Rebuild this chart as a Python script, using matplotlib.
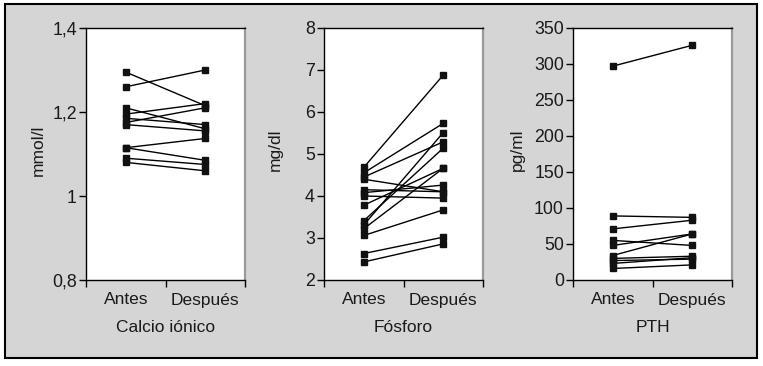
import matplotlib
matplotlib.use("Agg")
import matplotlib.pyplot as plt
from matplotlib.patches import Rectangle
from matplotlib.ticker import FixedLocator, NullFormatter

plt.rcParams['font.family'] = ['Liberation Sans', 'DejaVu Sans']

categories = ["Antes", "Después"]

calcio_antes = [1.295, 1.26, 1.21, 1.195, 1.185, 1.175, 1.17, 1.115, 1.115, 1.09, 1.08]
calcio_despues = [1.215, 1.30, 1.16, 1.22, 1.17, 1.21, 1.155, 1.137, 1.085, 1.075, 1.06]

fosforo_antes = [4.68, 4.55, 4.45, 4.40, 4.15, 4.08, 4.00, 3.78, 3.41, 3.31, 3.22, 3.06, 2.63, 2.43]
fosforo_despues = [6.88, 5.73, 5.29, 4.10, 4.10, 4.26, 3.95, 4.66, 5.14, 5.51, 4.66, 3.67, 3.02, 2.86]

pth_antes = [297, 89, 71, 55, 48, 34, 30, 27, 23, 16]
pth_despues = [326, 87, 83, 48, 64, 64, 33, 29, 31, 21]

panels = [
    dict(antes=calcio_antes, despues=calcio_despues, ylim=(0.8, 1.4),
         yticks=[0.8, 1.0, 1.2, 1.4], yticklabels=["0,8", "1", "1,2", "1,4"],
         ylabel="mmol/l", xlabel="Calcio iónico", x0=86, ylab_x=38),
    dict(antes=fosforo_antes, despues=fosforo_despues, ylim=(2, 8),
         yticks=[2, 3, 4, 5, 6, 7, 8], yticklabels=["2", "3", "4", "5", "6", "7", "8"],
         ylabel="mg/dl", xlabel="Fósforo", x0=324, ylab_x=275),
    dict(antes=pth_antes, despues=pth_despues, ylim=(0, 350),
         yticks=[0, 50, 100, 150, 200, 250, 300, 350],
         yticklabels=["0", "50", "100", "150", "200", "250", "300", "350"],
         ylabel="pg/ml", xlabel="PTH", x0=573, ylab_x=517),
]

W, H = 763, 366
fig = plt.figure(figsize=(W / 100, H / 100), dpi=100)
fig.patch.set_facecolor("white")

# outer gray frame
fig.patches.append(Rectangle((5 / W, 1 - 358 / H), 752 / W, 354 / H,
                             transform=fig.transFigure, facecolor="#d5d5d5",
                             edgecolor="black", linewidth=1.5, zorder=-10))

top, bottom, width = 28, 280, 159
xpos = [0.5, 1.5]
for p in panels:
    ax = fig.add_axes([p["x0"] / W, 1 - bottom / H, width / W, (bottom - top) / H])
    ax.set_facecolor("white")
    for a, d in zip(p["antes"], p["despues"]):
        ax.plot(xpos, [a, d], color="black", linewidth=1.0, marker="s",
                markersize=4.5, markerfacecolor="#111111", markeredgecolor="#111111",
                clip_on=False)
    ax.set_xlim(0, 2)
    ax.set_ylim(*p["ylim"])
    ax.set_yticks(p["yticks"])
    ax.set_yticklabels(p["yticklabels"])
    ax.xaxis.set_major_locator(FixedLocator([0, 1, 2]))
    ax.xaxis.set_major_formatter(NullFormatter())
    ax.xaxis.set_minor_locator(FixedLocator(xpos))
    ax.set_xticklabels(categories, minor=True)
    ax.tick_params(axis="both", which="major", direction="out", length=5,
                   width=1, color="black", labelsize=12.8, pad=1.5, labelcolor="#1a1a1a")
    ax.tick_params(axis="x", which="minor", length=0, labelsize=12.5, pad=9,
                   labelcolor="#1a1a1a")
    for s in ["left", "bottom", "top"]:
        ax.spines[s].set_color("black")
        ax.spines[s].set_linewidth(1.0)
    ax.spines["right"].set_color("#9a9a9a")
    ax.spines["right"].set_linewidth(1.6)
    cx = (p["x0"] + width / 2) / W
    fig.text(cx, 1 - 328 / H, p["xlabel"], ha="center", va="center",
             fontsize=12.5, color="#1a1a1a")
    fig.text(p["ylab_x"] / W, 1 - 150 / H, p["ylabel"], ha="center", va="center",
             rotation=90, fontsize=12.5, color="#1a1a1a")

fig.savefig("out.png", dpi=100)
